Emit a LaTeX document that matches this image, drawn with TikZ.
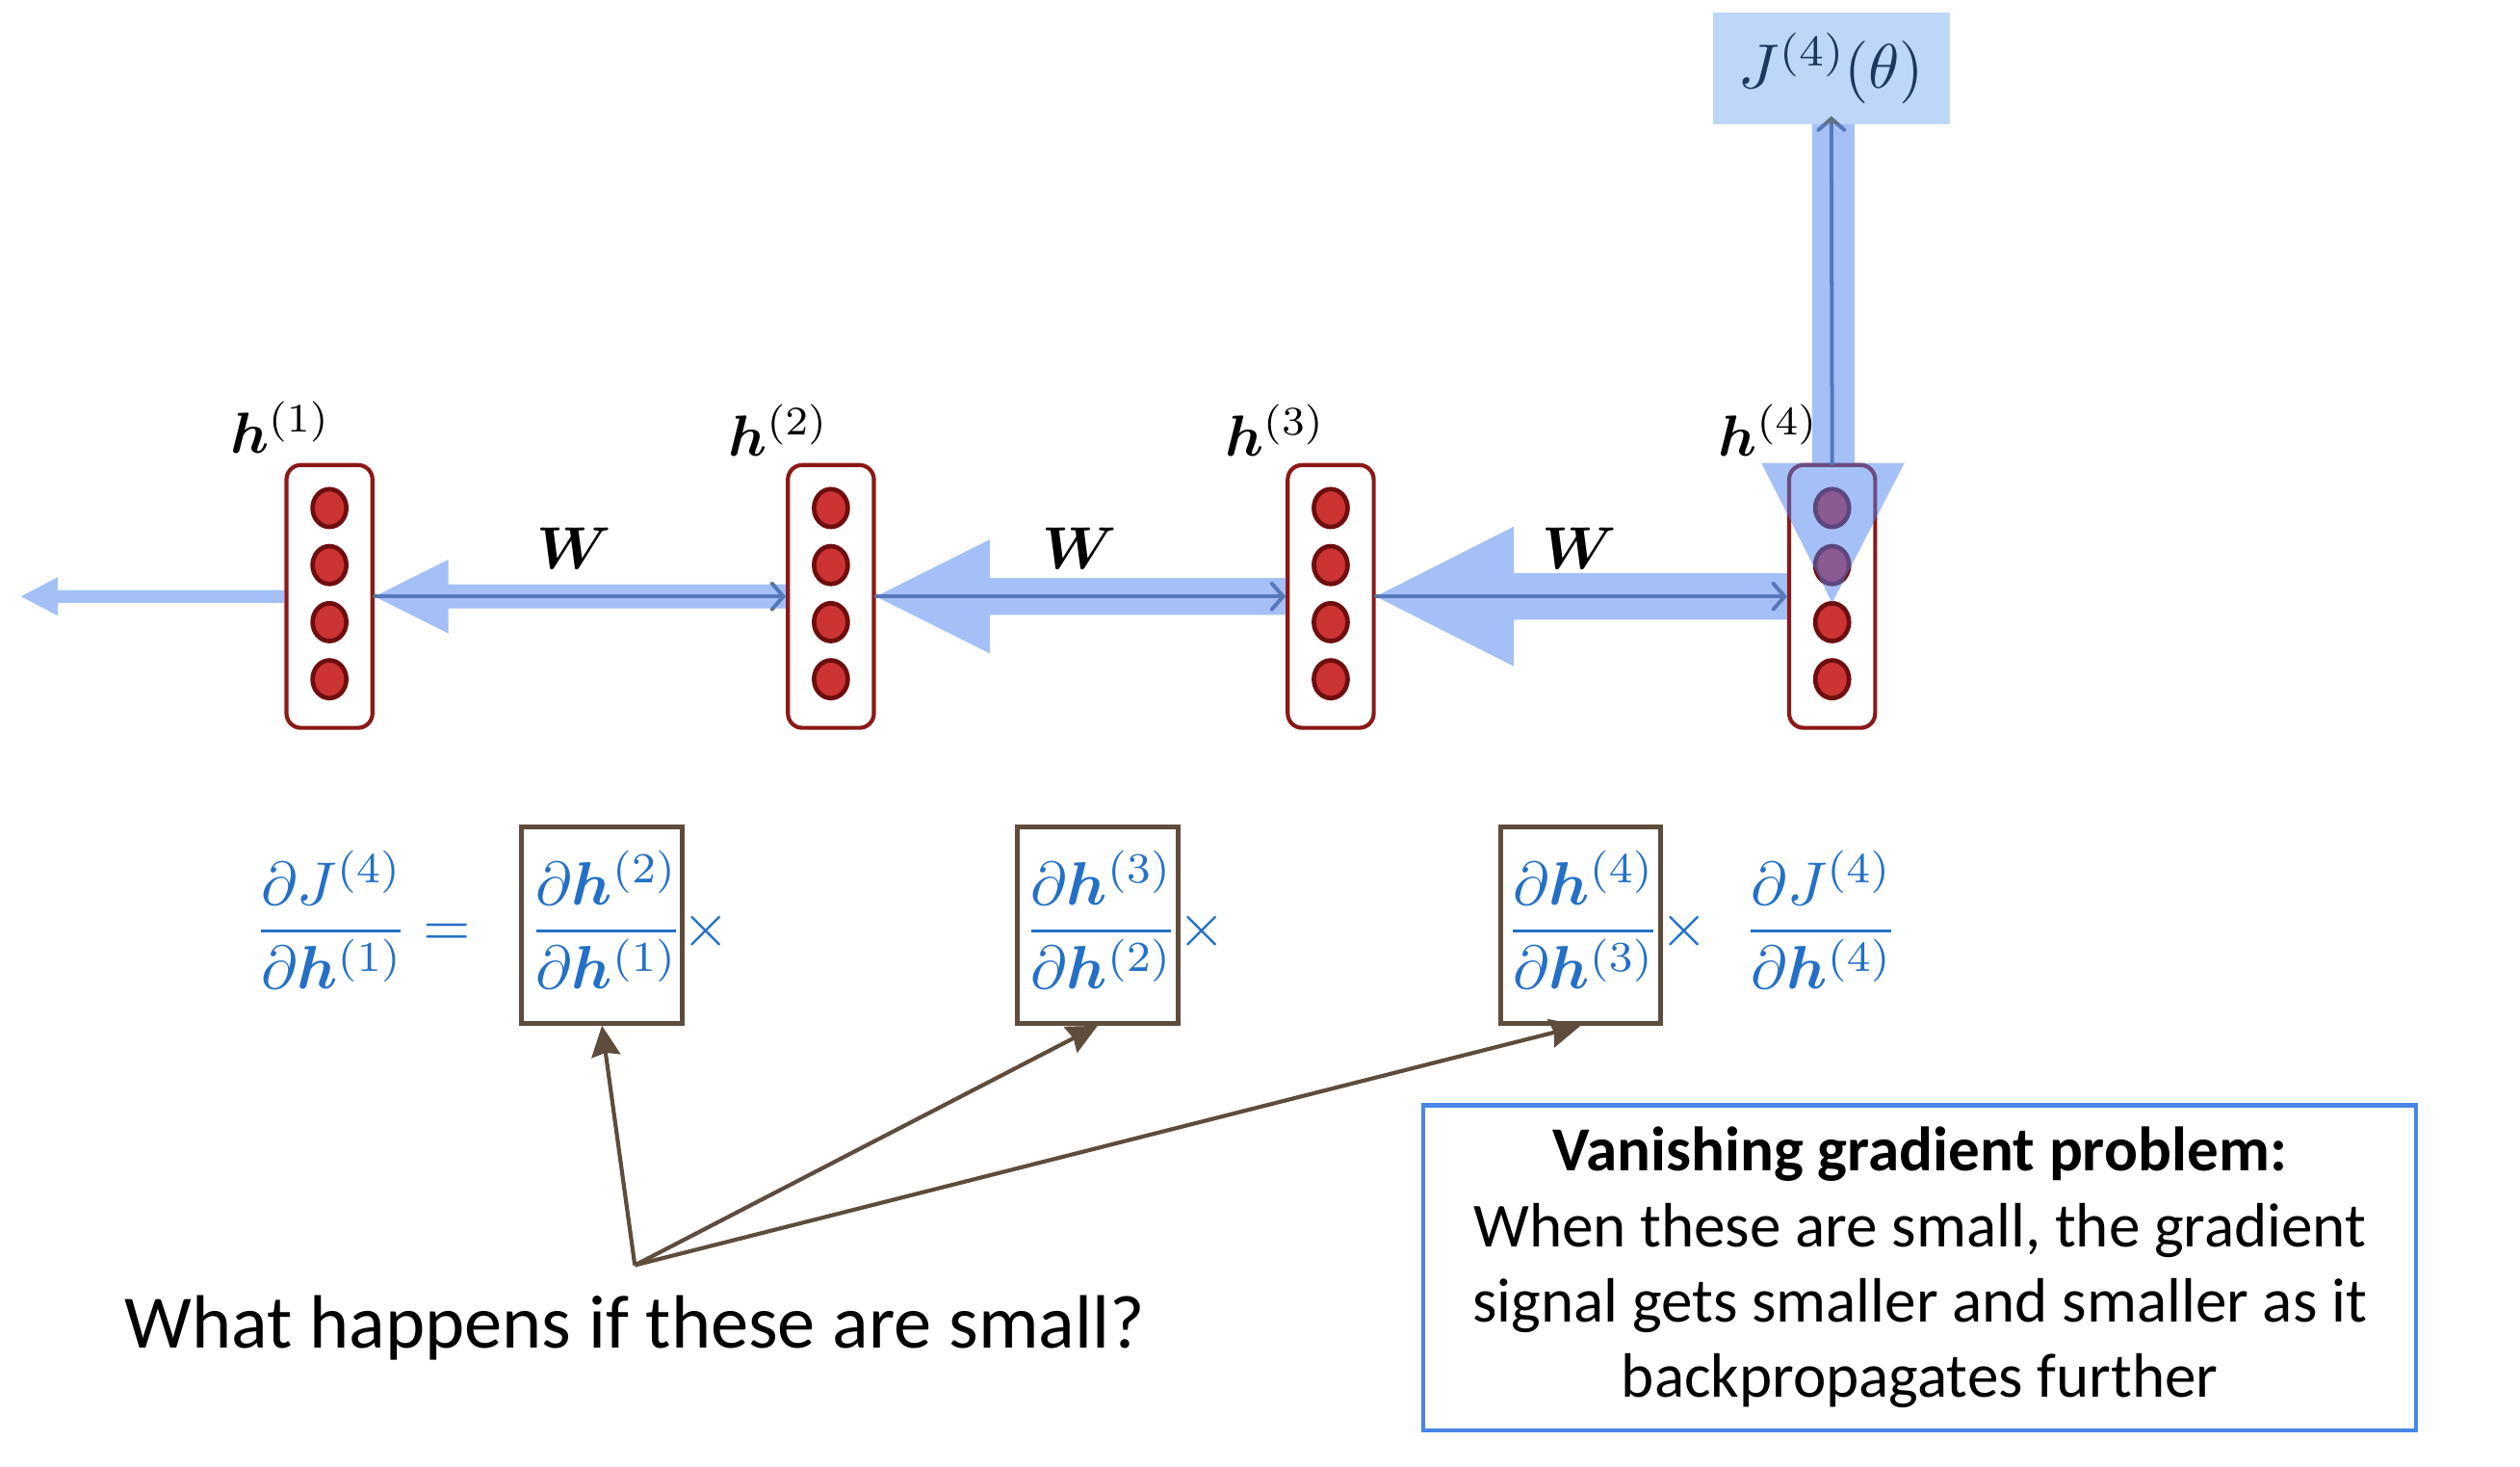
\documentclass[tikz,border=0pt]{standalone}
\usepackage{amsmath,bm}
\usepackage[no-math]{fontspec}
\DeclareFontShape{OML}{cmm}{m}{it}{<-30>cmmi7 <30->cmmi10}{}
\DeclareFontShape{OML}{cmm}{b}{it}{<-30>cmmib7 <30->cmmib10}{}
\DeclareFontShape{OT1}{cmr}{m}{n}{<-30>cmr7 <30->cmr10}{}
\DeclareFontShape{OT1}{cmr}{bx}{n}{<-30>cmbx7 <30->cmbx10}{}
\DeclareFontShape{OMS}{cmsy}{m}{n}{<-30>cmsy7 <30->cmsy10}{}
\DeclareFontShape{OMS}{cmsy}{b}{n}{<-30>cmbsy7 <30->cmbsy10}{}
\DeclareFontShape{OMX}{cmex}{m}{n}{<->cmex10}{}
\newfontfamily\calib{Carlito}
\usetikzlibrary{arrows.meta,shapes.geometric,calc}
\definecolor{boxred}{RGB}{140,24,24}
\definecolor{dotred}{RGB}{204,51,51}
\definecolor{dotedge}{RGB}{110,14,14}
\definecolor{flowblue}{RGB}{76,130,239}
\definecolor{thingray}{RGB}{95,112,135}
\definecolor{jfill}{RGB}{190,215,248}
\definecolor{jtext}{RGB}{30,55,95}
\definecolor{eqblue}{RGB}{35,112,198}
\definecolor{pbrown}{RGB}{94,76,60}
\definecolor{noteblue}{RGB}{74,134,232}
\begin{document}
\begin{tikzpicture}[x=1pt,y=-1pt,
  hbox/.style={draw=boxred, line width=2.5pt, rounded corners=9pt, fill=white,
    minimum width=53.5pt, minimum height=163.5pt, inner sep=0pt},
  dot/.style={ellipse, draw=dotedge, fill=dotred, line width=2.8pt,
    minimum width=21pt, minimum height=23.5pt, inner sep=0pt},
  hlab/.style={font=\fontsize{36}{40}\selectfont, inner sep=0pt, anchor=base west},
  wlab/.style={font=\fontsize{37}{40}\selectfont, inner sep=0pt, anchor=base},
  jbox/.style={fill=jfill, text=jtext, minimum width=147pt, minimum height=69pt,
    inner sep=0pt, font=\fontsize{39}{44}\selectfont},
  thinarr/.style={draw=thingray, line width=2.4pt, line cap=round,
    -{Straight Barb[length=7pt,width=16pt,line cap=round]}},
  eqn/.style={text=eqblue, font=\fontsize{38}{44}\selectfont, inner sep=0pt, anchor=base},
  pbox/.style={draw=pbrown, line width=3pt, minimum width=100pt, minimum height=122pt, inner sep=0pt},
  parr/.style={draw=pbrown, line width=2.5pt, -{Stealth[length=19pt,width=18pt,inset=2pt]}},
  note/.style={draw=noteblue, line width=2.5pt, minimum width=618pt, minimum height=202pt,
    align=center, inner sep=0pt, font=\calib\fontsize{39}{47}\selectfont},
  what/.style={font=\calib\fontsize{47}{52}\selectfont, inner sep=0pt}
]
\useasboundingbox (0,0) rectangle (1568,912.5);

% loss box
\node[jbox] (J) at (1139.5,42.5) {$J^{(4)}(\theta)$};

% hidden state boxes
\node[hbox] (h1) at (205,371) {};
\node[hbox] (h2) at (517,371) {};
\node[hbox] (h3) at (828,371) {};
\node[hbox] (h4) at (1140,371) {};
\foreach \i in {1,...,4}{
  \foreach \dy [count=\k] in {-55,-19.5,16,51.5}{
    \node[dot] (d\i\k) at ($(h\i.center)+(0,\dy)$) {};
  }
}

% labels
\node[hlab] (l1) at (143,282) {$\bm{h}^{(1)}$};
\node[hlab] (l2) at (453,283.5) {$\bm{h}^{(2)}$};
\node[hlab] (l3) at (762,283.5) {$\bm{h}^{(3)}$};
\node[hlab] (l4) at (1069,283.5) {$\bm{h}^{(4)}$};
\node[wlab] (w1) at (357,354) {$\bm{W}$};
\node[wlab] (w2) at (672,354) {$\bm{W}$};
\node[wlab] (w3) at (983,354) {$\bm{W}$};

% forward (thin) arrows
\draw[thinarr] (h1.east) -- (h2.west);
\draw[thinarr] (h2.east) -- (h3.west);
\draw[thinarr] (h3.east) -- (h4.west);
\draw[thinarr, shorten >=-5pt] (h4.north) -- (J.south);

% backward gradient flow (translucent)
\coordinate (lend) at (13,371);
\coordinate (vtip) at ($(h4.north)+(0,87)$);
\begin{scope}[transparency group, opacity=0.5]
\fill[flowblue] (lend) -- ($(lend)+(23,-12)$) -- ($(lend)+(23,-4)$) -- ($(h1.west)+(0,-4)$)
  -- ($(h1.west)+(0,4)$) -- ($(lend)+(23,4)$) -- ($(lend)+(23,12)$) -- cycle;
\fill[flowblue] (h1.east) -- ($(h1.east)+(46,-23)$) -- ($(h1.east)+(46,-7.5)$) -- ($(h2.west)+(0,-7.5)$)
  -- ($(h2.west)+(0,7.5)$) -- ($(h1.east)+(46,7.5)$) -- ($(h1.east)+(46,23)$) -- cycle;
\fill[flowblue] (h2.east) -- ($(h2.east)+(71,-35.5)$) -- ($(h2.east)+(71,-11.5)$) -- ($(h3.west)+(0,-11.5)$)
  -- ($(h3.west)+(0,11.5)$) -- ($(h2.east)+(71,11.5)$) -- ($(h2.east)+(71,35.5)$) -- cycle;
\fill[flowblue] (h3.east) -- ($(h3.east)+(86,-43.5)$) -- ($(h3.east)+(86,-14.5)$) -- ($(h4.west)+(0,-14.5)$)
  -- ($(h4.west)+(0,14.5)$) -- ($(h3.east)+(86,14.5)$) -- ($(h3.east)+(86,43.5)$) -- cycle;
\fill[flowblue] (vtip) -- ($(vtip)+(-44,-87)$) -- ($(vtip)+(-12.5,-87)$) -- ($(J.south)+(-12,0)$)
  -- ($(J.south)+(14.5,0)$) -- ($(vtip)+(14,-87)$) -- ($(vtip)+(45,-87)$) -- cycle;
\end{scope}

% chain rule
\node[eqn] (f0) at (206,588.5) {$\dfrac{\partial J^{(4)}}{\partial \bm{h}^{(1)}}$};
\node[eqn] (eqs) at (278,588.5) {$=$};
\node[pbox] (b1) at (374.5,575.5) {};
\node[eqn] (f1) at (377,588.5) {$\dfrac{\partial \bm{h}^{(2)}}{\partial \bm{h}^{(1)}}$};
\node[eqn] (x1) at (439,588.5) {$\times$};
\node[pbox] (b2) at (683,575.5) {};
\node[eqn] (f2) at (685,588.5) {$\dfrac{\partial \bm{h}^{(3)}}{\partial \bm{h}^{(2)}}$};
\node[eqn] (x2) at (748,588.5) {$\times$};
\node[pbox] (b3) at (983.5,575.5) {};
\node[eqn] (f3) at (985,588.5) {$\dfrac{\partial \bm{h}^{(4)}}{\partial \bm{h}^{(3)}}$};
\node[eqn] (x3) at (1048,588.5) {$\times$};
\node[eqn] (f4) at (1133,588.5) {$\dfrac{\partial J^{(4)}}{\partial \bm{h}^{(4)}}$};

% question and pointers
\coordinate (q) at (395,787);
\draw[parr] (q) -- (b1.south);
\draw[parr] (q) -- (b2.south);
\draw[parr] (q) -- (b3.south);
\node[what] (qt) at (395,826) {What happens if these are small?};

% note box
\node[note] (nb) at (1194.5,788.5) {\textbf{Vanishing gradient problem:}\\When these are small, the gradient\\signal gets smaller and smaller as it\\backpropagates further};
\end{tikzpicture}
\end{document}
